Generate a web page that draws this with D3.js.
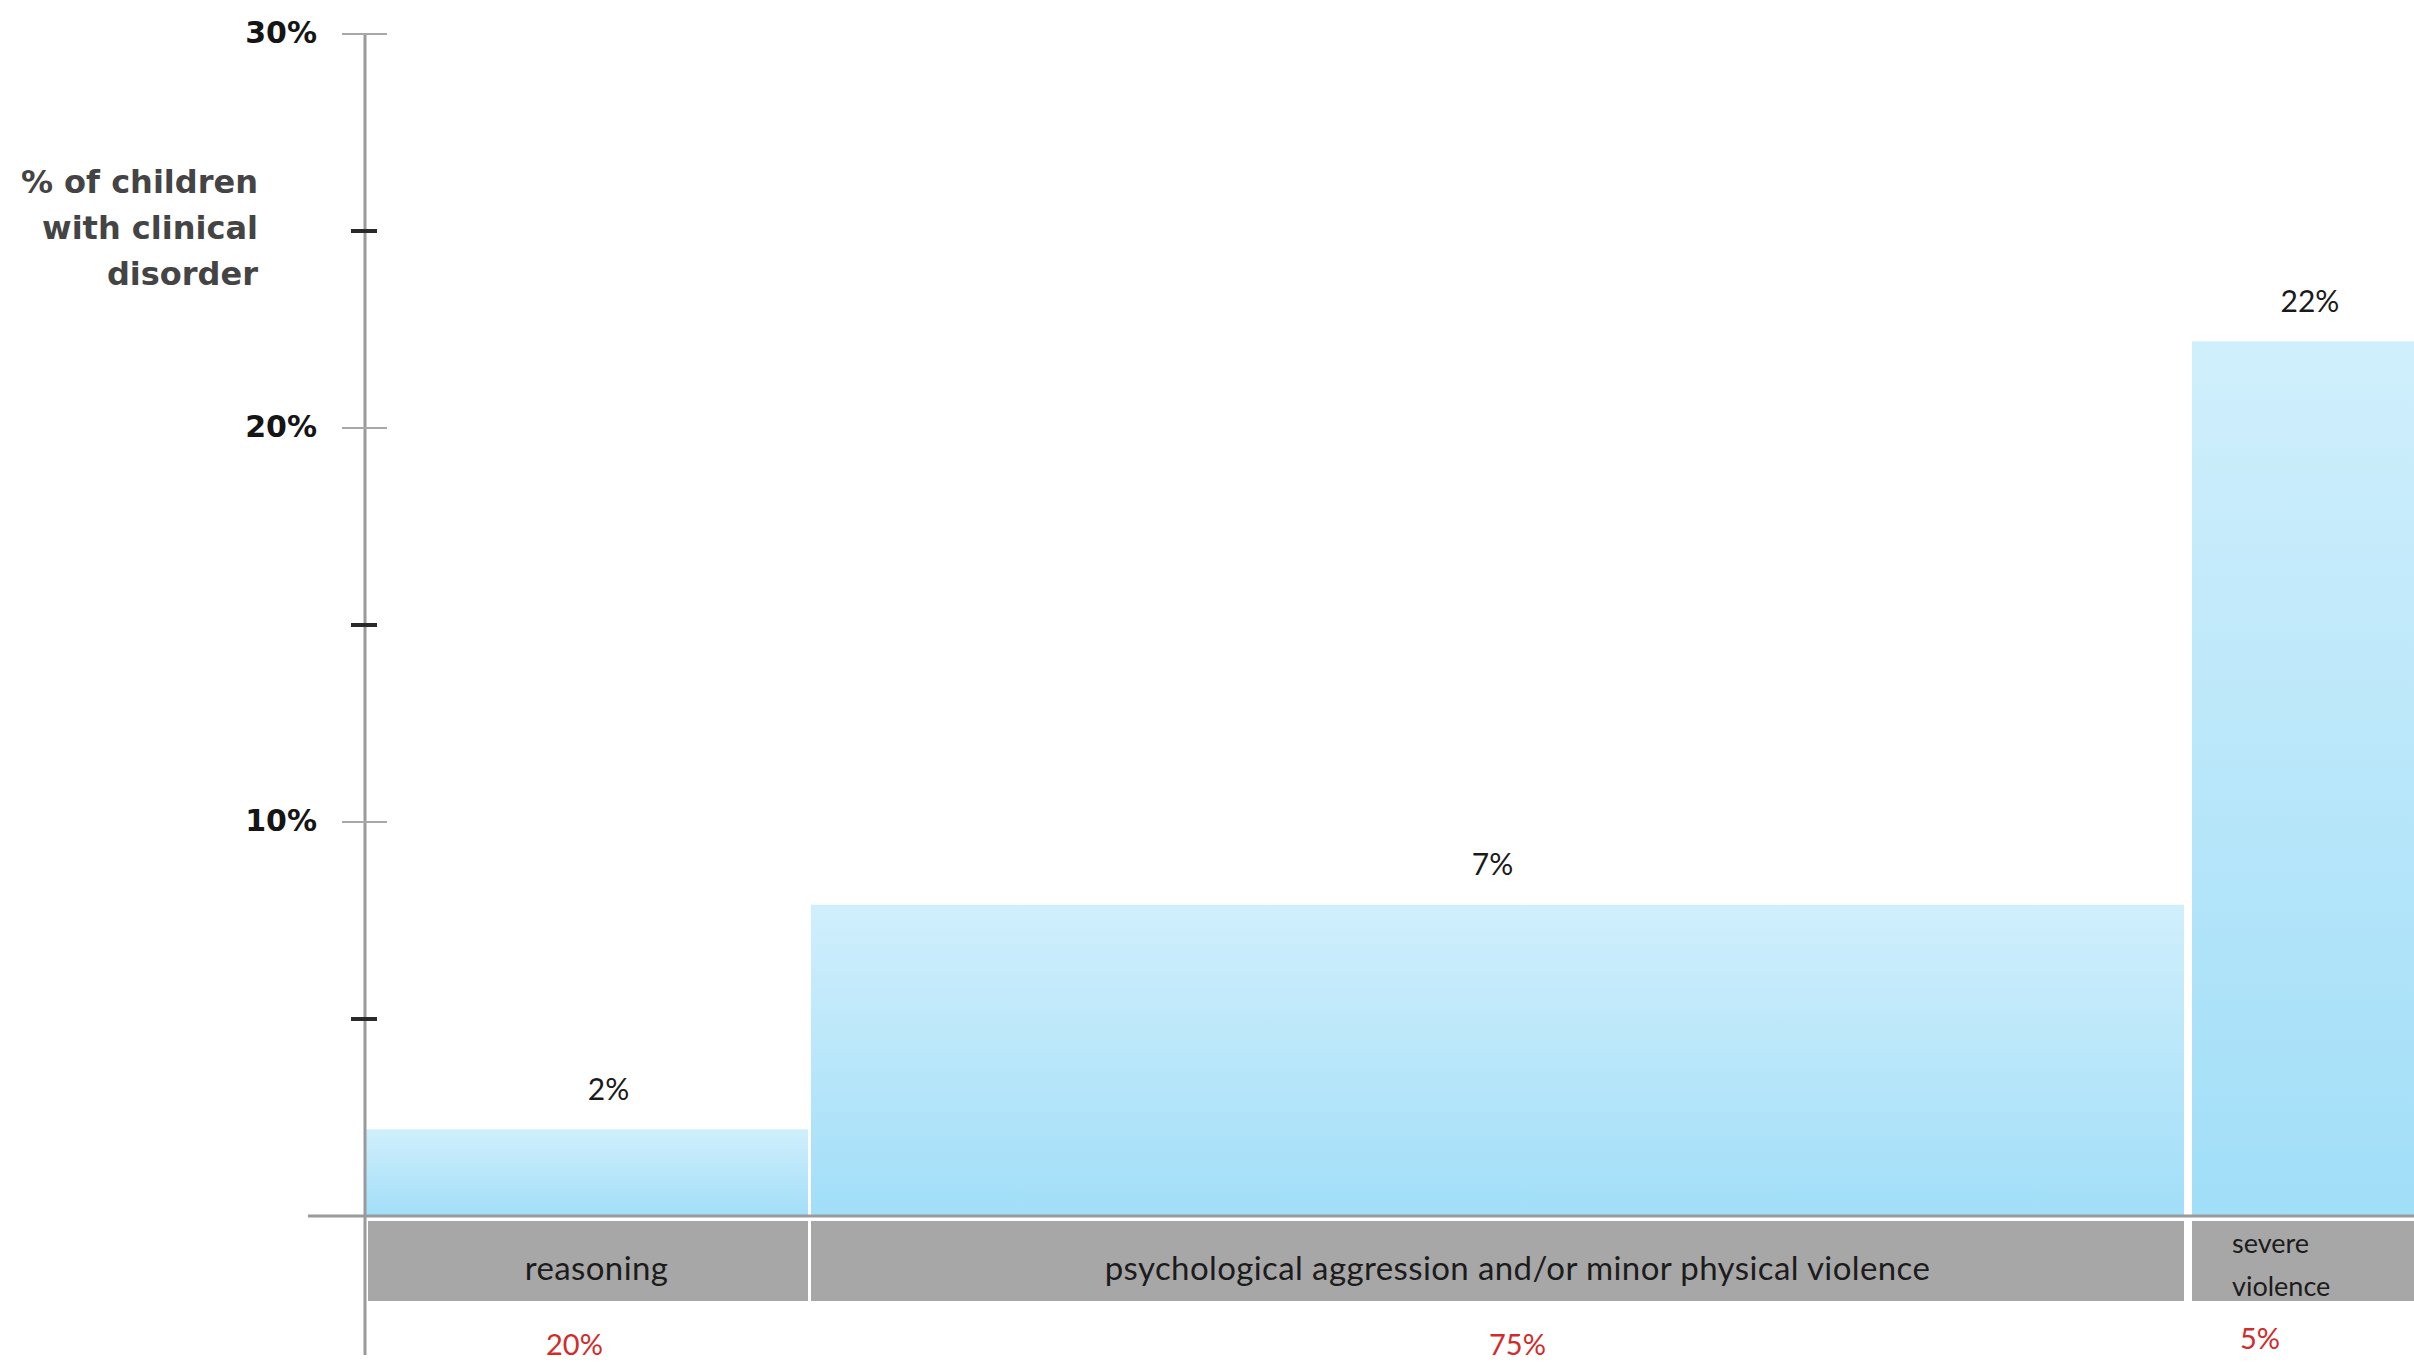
<!DOCTYPE html>
<html>
<head>
<meta charset="utf-8">
<script src="https://cdn.jsdelivr.net/npm/d3@7"></script>
<style>
  html, body { margin: 0; padding: 0; background: #ffffff; }
  svg { display: block; }
</style>
</head>
<body>
<script>
// ---- data ----
const categories = ["reasoning", "psychological aggression and/or minor physical violence", "severe violence"];
const shares = [20, 75, 5];                 // % of children in each group (bar widths)
const shareLabels = ["20%", "75%", "5%"];
const values = [2.2, 7.9, 22.2];            // bar heights as drawn (% with clinical disorder)
const valueLabels = ["2%", "7%", "22%"];
const majorTicks = [10, 20, 30];
const majorTickLabels = ["10%", "20%", "30%"];
const minorTicks = [5, 15, 25];
const yTitle = ["% of children", "with clinical", "disorder"];

// ---- layout ----
const W = 2414, H = 1365;
const axisX = 365;
const y = d3.scaleLinear().domain([0, 30]).range([1216, 34]);

// cumulative share edges -> horizontal positions (the original is not drawn to scale)
const edges = [0];
shares.forEach((s, i) => edges.push(edges[i] + s));
const x = d3.scaleLinear().domain(edges).range([axisX, 809.5, 2188, 2414]);
const gapAt = [0, 3, 8, 0];
const valueLabelShift = [22, -5, 7];

const svg = d3.select("body").append("svg").attr("width", W).attr("height", H);

const defs = svg.append("defs");
const grad = defs.append("linearGradient").attr("id", "barGrad")
  .attr("x1", 0).attr("y1", 0).attr("x2", 0).attr("y2", 1);
grad.append("stop").attr("offset", "0%").attr("stop-color", "#d0effc");
grad.append("stop").attr("offset", "100%").attr("stop-color", "#a1def8");

const bars = categories.map((c, i) => ({
  cat: c,
  x0: x(edges[i]) + gapAt[i] / 2,
  x1: x(edges[i + 1]) - gapAt[i + 1] / 2,
  v: values[i],
  vl: valueLabels[i],
  sl: shareLabels[i]
}));

// bars
svg.append("g").selectAll("rect").data(bars).join("rect")
  .attr("x", d => d.x0)
  .attr("y", d => y(d.v))
  .attr("width", d => d.x1 - d.x0)
  .attr("height", d => y(0) - y(d.v))
  .attr("fill", "url(#barGrad)");

// gray category band
const bandTop = 1221, bandBottom = 1301;
svg.append("g").selectAll("rect").data(bars).join("rect")
  .attr("x", (d, i) => i === 0 ? d.x0 + 3 : d.x0)
  .attr("y", bandTop)
  .attr("width", (d, i) => (d.x1 - d.x0) - (i === 0 ? 3 : 0))
  .attr("height", bandBottom - bandTop)
  .attr("fill", "#a7a7a7");

// category labels
const catFont = "'Lato', 'Open Sans', sans-serif";
bars.forEach((d, i) => {
  if (i < 2) {
    svg.append("text")
      .attr("x", (d.x0 + d.x1) / 2 + (i === 0 ? 10 : 20))
      .attr("y", (bandTop + bandBottom) / 2 + 7)
      .attr("dy", "0.35em")
      .attr("text-anchor", "middle")
      .attr("font-family", catFont)
      .attr("font-size", 33)
      .attr("letter-spacing", 0.4)
      .attr("fill", "#1c1c1c")
      .text(d.cat);
  } else {
    const words = d.cat.split(" ");
    words.forEach((w, k) => {
      svg.append("text")
        .attr("x", d.x0 + 40)
        .attr("y", bandTop + 23 + k * 43)
        .attr("dy", "0.35em")
        .attr("font-family", catFont)
        .attr("font-size", 27)
        .attr("fill", "#1c1c1c")
        .text(w);
    });
  }
});

// value labels
svg.append("g").selectAll("text").data(bars).join("text")
  .attr("x", (d, i) => (d.x0 + d.x1) / 2 + valueLabelShift[i])
  .attr("y", d => y(d.v) - 40)
  .attr("dy", "0.35em")
  .attr("text-anchor", "middle")
  .attr("font-family", catFont)
  .attr("font-size", 30)
  .attr("fill", "#1a1a1a")
  .text(d => d.vl);

// share labels (red)
svg.append("g").selectAll("text").data(bars).join("text")
  .attr("x", (d, i) => i === 2 ? d.x0 + 68 : (d.x0 + d.x1) / 2 + (i === 0 ? -12 : 20))
  .attr("y", (d, i) => i === 2 ? 1339 : 1345)
  .attr("dy", "0.35em")
  .attr("text-anchor", "middle")
  .attr("font-family", catFont)
  .attr("font-size", 29)
  .attr("fill", "#d12b2b")
  .text(d => d.sl);

// axes lines
svg.append("line")
  .attr("x1", axisX).attr("x2", axisX)
  .attr("y1", y(30)).attr("y2", 1355)
  .attr("stroke", "#9a9a9a").attr("stroke-width", 3);
svg.append("line")
  .attr("x1", 308).attr("x2", W)
  .attr("y1", y(0)).attr("y2", y(0))
  .attr("stroke", "#9a9a9a").attr("stroke-width", 3);

// major ticks
svg.append("g").selectAll("line").data(majorTicks).join("line")
  .attr("x1", axisX - 23).attr("x2", axisX + 22)
  .attr("y1", d => y(d)).attr("y2", d => y(d))
  .attr("stroke", "#a8a8a8").attr("stroke-width", 2);
// minor ticks
svg.append("g").selectAll("line").data(minorTicks).join("line")
  .attr("x1", axisX - 14).attr("x2", axisX + 12)
  .attr("y1", d => y(d)).attr("y2", d => y(d))
  .attr("stroke", "#2a2a2a").attr("stroke-width", 4);

// tick labels
svg.append("g").selectAll("text").data(majorTicks).join("text")
  .attr("x", 317)
  .attr("y", d => y(d) - 2)
  .attr("dy", "0.35em")
  .attr("text-anchor", "end")
  .attr("font-family", "'DejaVu Sans', sans-serif")
  .attr("font-weight", "bold")
  .attr("font-size", 30)
  .attr("fill", "#151515")
  .text((d, i) => majorTickLabels[i]);

// y title
svg.append("g").selectAll("text").data(yTitle).join("text")
  .attr("x", 258)
  .attr("y", (d, i) => 182 + i * 46)
  .attr("dy", "0.35em")
  .attr("text-anchor", "end")
  .attr("font-family", "'DejaVu Sans', sans-serif")
  .attr("font-weight", "bold")
  .attr("font-size", 32)
  .attr("fill", "#444")
  .text(d => d);
</script>
</body>
</html>
